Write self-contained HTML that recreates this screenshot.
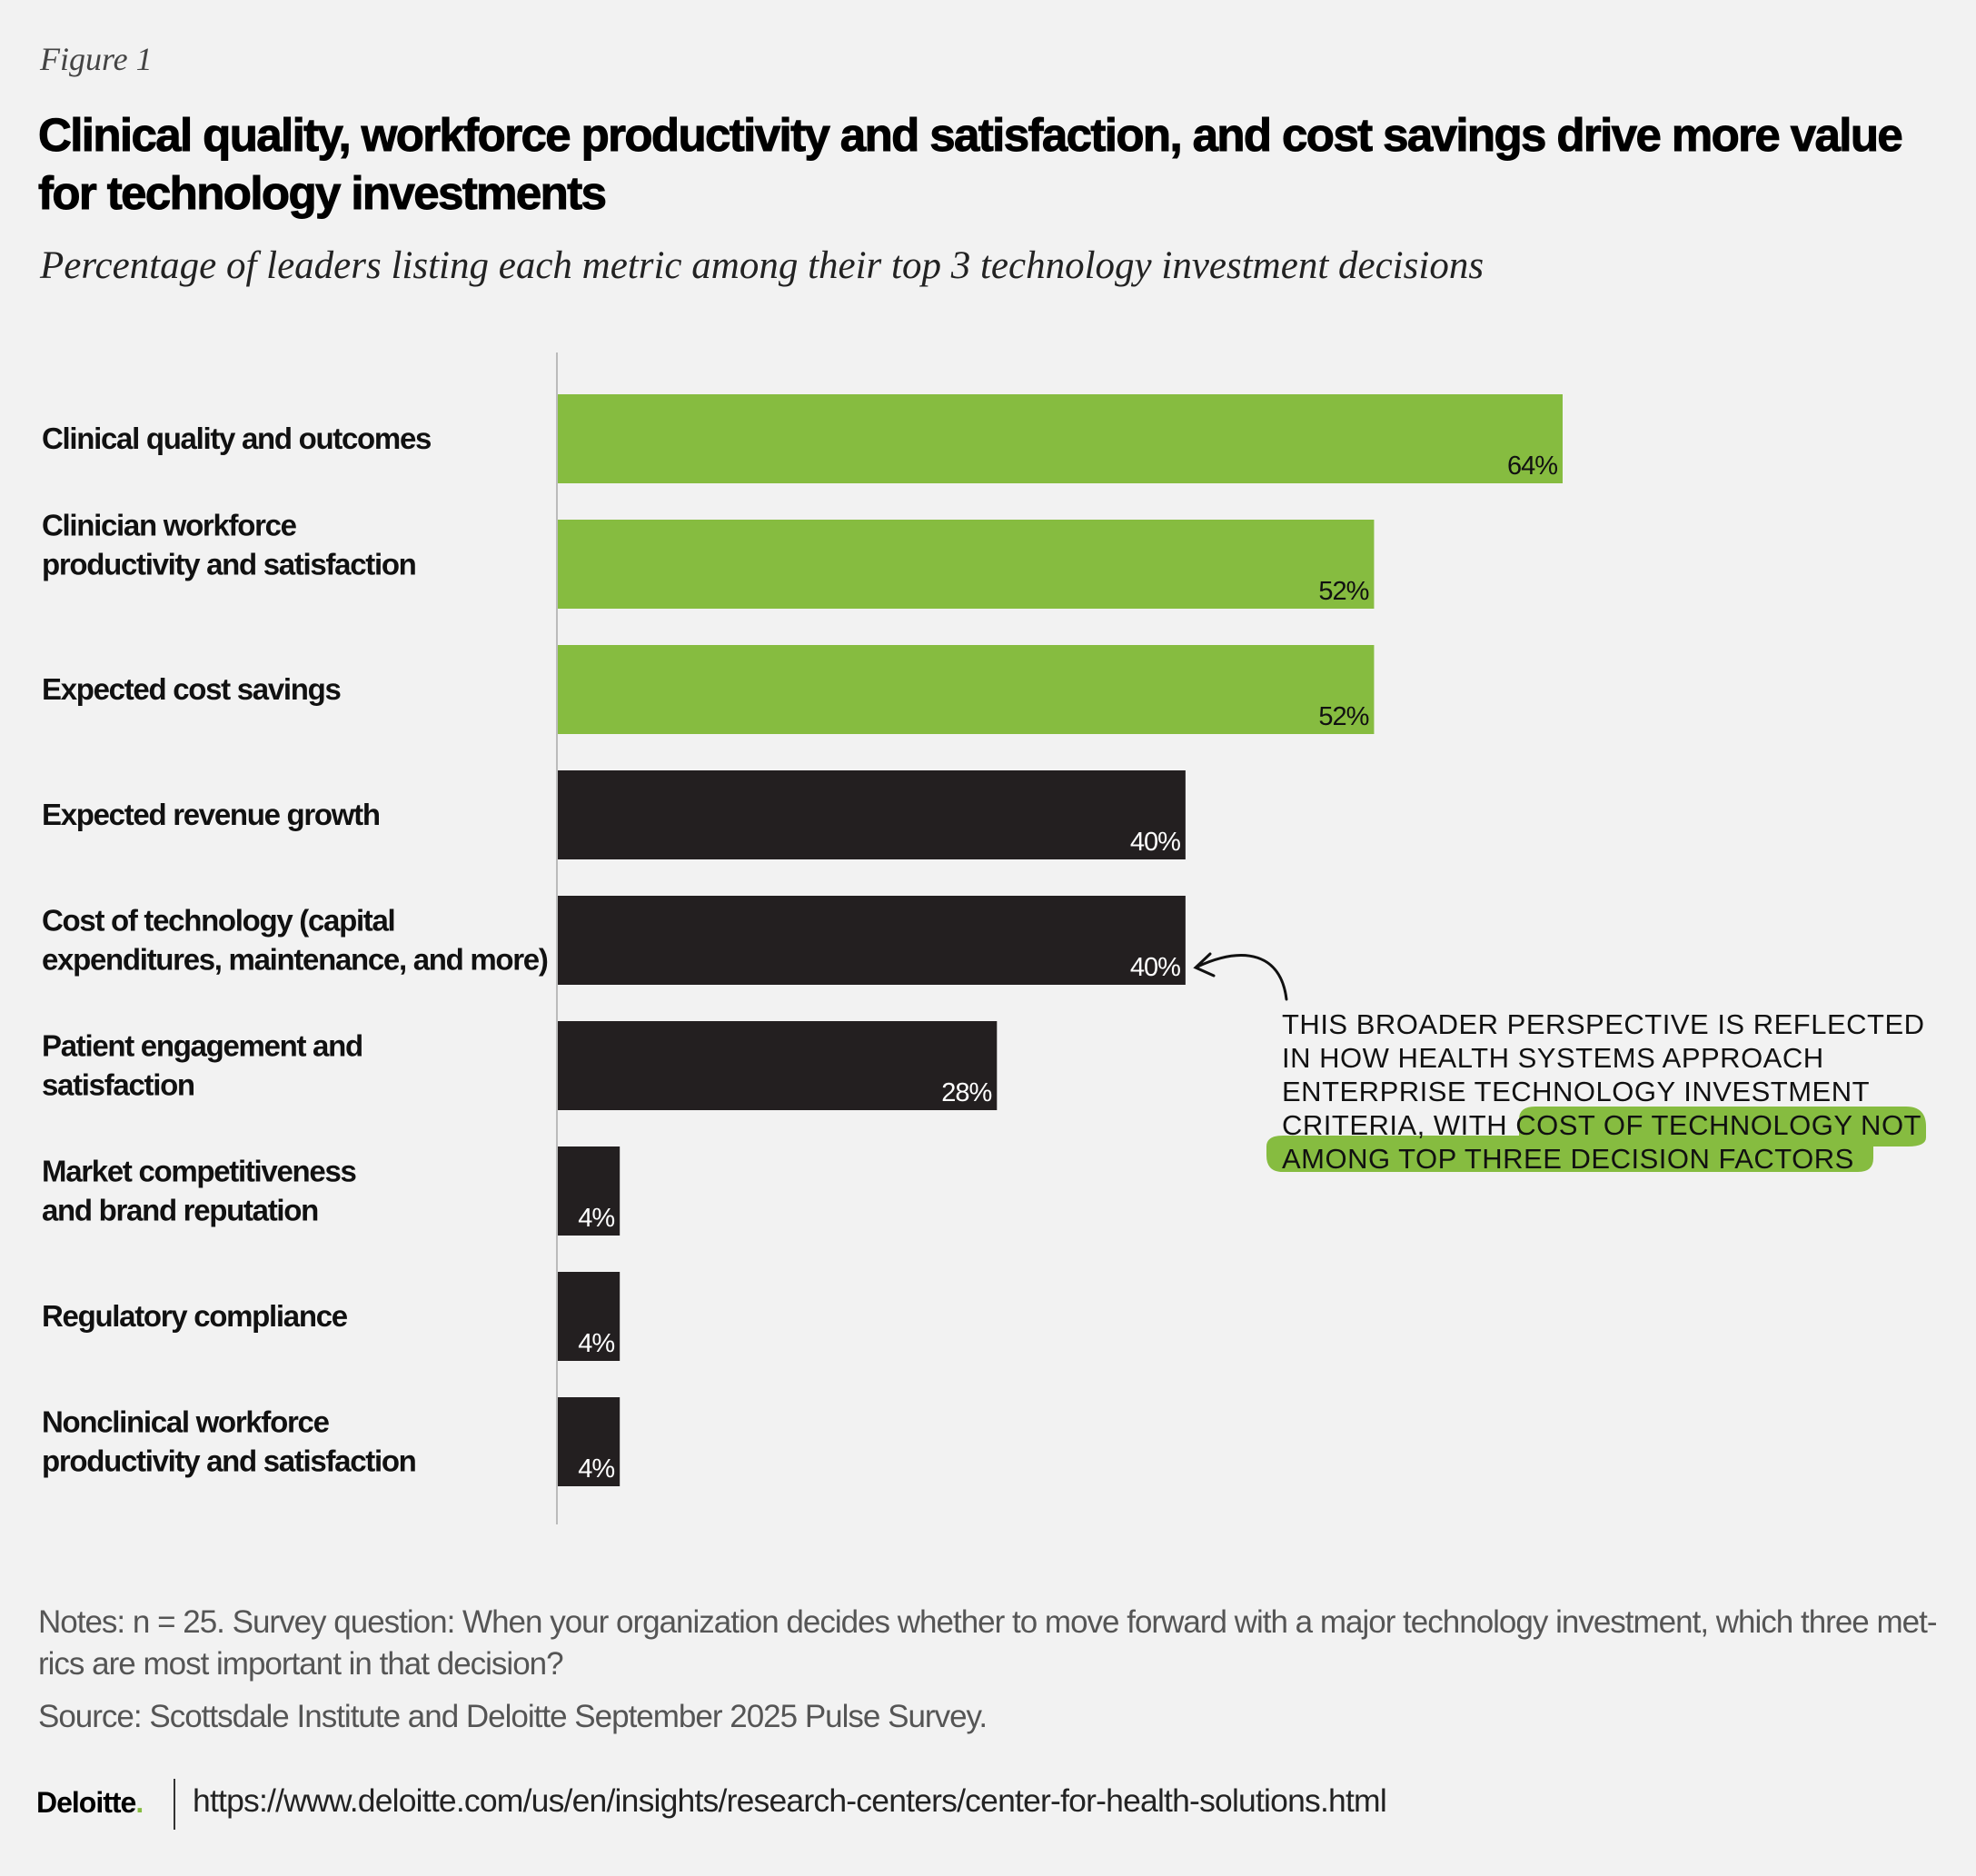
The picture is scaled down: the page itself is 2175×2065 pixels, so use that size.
<!DOCTYPE html>
<html><head><meta charset="utf-8"><style>
body{margin:0;background:#f2f2f2;}
#c{position:relative;width:2175px;height:2065px;background:#f2f2f2;font-family:"Liberation Sans",sans-serif;overflow:hidden;color:#111;}
.t{position:absolute;white-space:nowrap;}
</style></head><body>
<div id="c">
<div class="t" style="left:44px;top:44px;font:italic 36px 'Liberation Serif',serif;color:#444;">Figure 1</div>
<div class="t" style="left:42px;top:117px;font:bold 51px/64px 'Liberation Sans',sans-serif;letter-spacing:-1.6px;color:#000;-webkit-text-stroke:1px #000;">Clinical quality, workforce productivity and satisfaction, and cost savings drive more value<br>for technology investments</div>
<div class="t" style="left:44px;top:268px;font:italic 43px 'Liberation Serif',serif;color:#222;">Percentage of leaders listing each metric among their top 3 technology investment decisions</div>
<svg id="plot" width="2175" height="2065" style="position:absolute;left:0;top:0"></svg>
<div class="t" style="left:42px;top:1763px;font:35px/46px 'Liberation Sans',sans-serif;letter-spacing:-1px;color:#555;">Notes: n = 25. Survey question: When your organization decides whether to move forward with a major technology investment, which three met-<br>rics are most important in that decision?</div>
<div class="t" style="left:42px;top:1870px;font:35px 'Liberation Sans',sans-serif;letter-spacing:-1px;color:#555;">Source: Scottsdale Institute and Deloitte September 2025 Pulse Survey.</div>
<div class="t" style="left:40px;top:1966px;font:bold 32px 'Liberation Sans',sans-serif;letter-spacing:-1px;color:#000;">Deloitte<span style="color:#86bc40">.</span></div>
<div class="t" style="left:191px;top:1958px;width:2px;height:56px;background:#333;"></div>
<div class="t" style="left:212px;top:1962px;font:35.5px 'Liberation Sans',sans-serif;letter-spacing:-0.8px;color:#222;">https://www.deloitte.com/us/en/insights/research-centers/center-for-health-solutions.html</div>
</div>
<script>
const categories=[["Clinical quality and outcomes"],["Clinician workforce","productivity and satisfaction"],["Expected cost savings"],["Expected revenue growth"],["Cost of technology (capital","expenditures, maintenance, and more)"],["Patient engagement and","satisfaction"],["Market competitiveness","and brand reputation"],["Regulatory compliance"],["Nonclinical workforce","productivity and satisfaction"]];
const values=[64,52,52,40,40,28,4,4,4];
const highlighted=[true,true,true,false,false,false,false,false,false];
const NS="http://www.w3.org/2000/svg";
const svg=document.getElementById('plot');
const x0=613,pxPer=(1720-613)/64;
const xs=v=>x0+v*pxPer;
const ys=i=>434+i*138;
const bh=98;
function mk(t,a){const e=document.createElementNS(NS,t);for(const k in a)e.setAttribute(k,a[k]);svg.appendChild(e);return e;}
const ax=mk('line',{x1:x0,x2:x0,y1:388,y2:1678,stroke:'#bbb','stroke-width':2});


values.forEach((v,i)=>{
 const r=mk('rect',{x:x0+1,y:ys(i),width:xs(v)-x0-1,height:bh,fill:highlighted[i]?'#86bc40':'#231f20'});
 
 
 const t=mk('text',{x:xs(v)-6,y:ys(i)+bh-10,'text-anchor':'end','font-size':29,'font-family':'Liberation Sans, sans-serif','letter-spacing':-1,fill:highlighted[i]?'#111':'#fff'});
 t.textContent=v+'%';
 
 
 const lines=categories[i];
 const cy=ys(i)+bh/2-(i===1?21:0);
 lines.forEach((ln,j)=>{
  const l=mk('text',{x:46,y:cy+11+(j-(lines.length-1)/2)*43,'font-size':33,'font-weight':'bold','font-family':'Liberation Sans, sans-serif','letter-spacing':-1.3,fill:'#111'});
  l.textContent=ln;
  
  
 });
});
const hl=mk('path',{d:'M1690 1218 H2098 Q2120 1218 2120 1240 V1252 Q2120 1262 2100 1262 H2062 V1275 Q2062 1290 2045 1290 H1412 Q1394 1290 1394 1272 V1262 Q1394 1250 1412 1250 H1672 V1232 Q1672 1218 1690 1218 Z',fill:'#86bc40'});


const ar=mk('path',{d:'M1416 1100 C1410 1050 1370 1040 1318 1064 M1332 1050 L1316 1065 L1336 1074',fill:'none',stroke:'#111','stroke-width':3,'stroke-linecap':'round'});


["THIS BROADER PERSPECTIVE IS REFLECTED","IN HOW HEALTH SYSTEMS APPROACH","ENTERPRISE TECHNOLOGY INVESTMENT","CRITERIA, WITH COST OF TECHNOLOGY NOT","AMONG TOP THREE DECISION FACTORS"].forEach((s,j)=>{
 const a=mk('text',{x:1411,y:1138+j*37,'font-size':31,'font-family':'Liberation Sans, sans-serif','letter-spacing':0.5,fill:'#111'});
 a.textContent=s;
 
 
});
</script>
</body></html>
